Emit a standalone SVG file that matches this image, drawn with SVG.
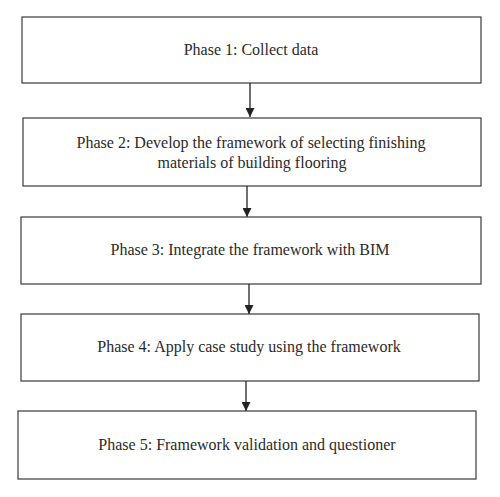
<svg xmlns="http://www.w3.org/2000/svg" width="500" height="497" viewBox="0 0 500 497">
<defs>
<style>
.box{fill:#fff;stroke:#3a3a3a;stroke-width:1.2}
.t{font-family:"Liberation Serif","Times New Roman",serif;font-size:16px;fill:#2a2a2a;text-anchor:middle}
.c{stroke:#222;stroke-width:1.3;fill:none;marker-end:url(#ah)}
</style>
<marker id="ah" viewBox="0 0 10 10" refX="10" refY="5" markerWidth="9" markerHeight="9" markerUnits="userSpaceOnUse" orient="auto">
<path d="M0,0 L10,5 L0,10 z" fill="#222"/>
</marker>
</defs>
<rect width="500" height="497" fill="#fff"/>
<g id="connectors">
<line class="c" x1="250" y1="83" x2="250" y2="117"/>
<line class="c" x1="247" y1="186" x2="247" y2="217"/>
<line class="c" x1="249" y1="284" x2="249" y2="314"/>
<line class="c" x1="246" y1="381" x2="246" y2="411"/>
</g>
<g id="phase1">
<rect class="box" x="22" y="17" width="459" height="66"/>
<text class="t" x="251" y="55">Phase 1: Collect data</text>
</g>
<g id="phase2">
<rect class="box" x="23" y="118" width="458" height="68"/>
<text class="t" x="251" y="148">Phase 2: Develop the framework of selecting finishing</text>
<text class="t" x="252" y="168">materials of building flooring</text>
</g>
<g id="phase3">
<rect class="box" x="21" y="217" width="460" height="67"/>
<text class="t" x="250" y="255">Phase 3: Integrate the framework with BIM</text>
</g>
<g id="phase4">
<rect class="box" x="21" y="314" width="458" height="67"/>
<text class="t" x="249" y="352">Phase 4: Apply case study using the framework</text>
</g>
<g id="phase5">
<rect class="box" x="18" y="411" width="458" height="68"/>
<text class="t" x="247" y="450">Phase 5: Framework validation and questioner</text>
</g>
</svg>
